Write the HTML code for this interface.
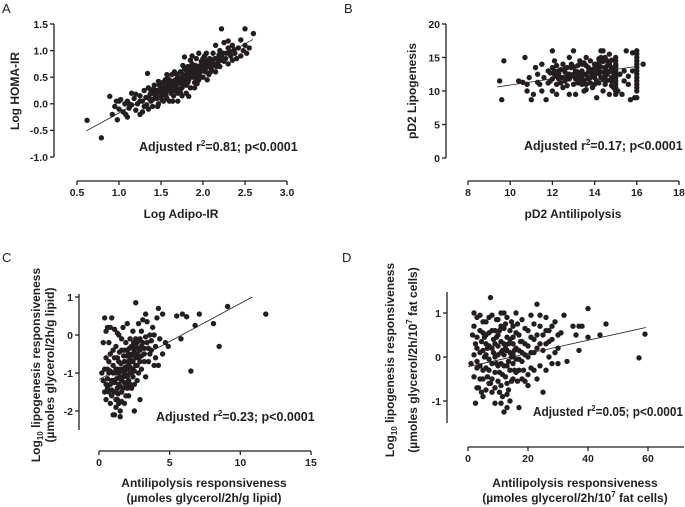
<!DOCTYPE html>
<html><head><meta charset="utf-8"><style>
html,body{margin:0;padding:0;background:#fff;}
svg{display:block;font-family:"Liberation Sans",Arial,sans-serif;}
.t{font-size:10.5px;font-weight:bold;fill:#231f20;}
.at{font-size:12px;font-weight:bold;fill:#231f20;}
.an{font-size:12.5px;font-weight:bold;fill:#231f20;}
.pl{font-size:13px;fill:#231f20;}
</style></head><body>
<svg id="fig" width="685" height="507" viewBox="0 0 685 507">
<text class="pl" x="2" y="13">A</text>
<text class="pl" x="344" y="13">B</text>
<text class="pl" x="2" y="262">C</text>
<text class="pl" x="342" y="262">D</text>

<text class="at" x="181" y="218" text-anchor="middle">Log Adipo-IR</text>
<text class="at" transform="translate(19,91) rotate(-90)" text-anchor="middle">Log HOMA-IR</text>
<text class="an" x="139" y="151">Adjusted r<tspan dy="-5" font-size="8">2</tspan><tspan dy="5">=0.81; p&lt;0.0001</tspan></text>

<text class="at" x="573" y="218" text-anchor="middle">pD2 Antilipolysis</text>
<text class="at" transform="translate(416,91) rotate(-90)" text-anchor="middle">pD2 Lipogenesis</text>
<text class="an" x="524" y="150">Adjusted r<tspan dy="-5" font-size="8">2</tspan><tspan dy="5">=0.17; p&lt;0.0001</tspan></text>

<text class="at" x="204" y="487" text-anchor="middle">Antilipolysis responsiveness</text>
<text class="at" x="204" y="502" text-anchor="middle">(µmoles glycerol/2h/g lipid)</text>
<text class="at" transform="translate(40,365) rotate(-90)" text-anchor="middle">Log<tspan dy="3" font-size="8">10</tspan><tspan dy="-3"> lipogenesis responsiveness</tspan></text>
<text class="at" transform="translate(54,365) rotate(-90)" text-anchor="middle">(µmoles glycerol/2h/g lipid)</text>
<text class="an" x="156" y="421">Adjusted r<tspan dy="-5" font-size="8">2</tspan><tspan dy="5">=0.23; p&lt;0.0001</tspan></text>

<text class="at" x="575" y="487" text-anchor="middle">Antilipolysis responsiveness</text>
<text class="at" x="575" y="502" text-anchor="middle">(µmoles glycerol/2h/10<tspan dy="-5" font-size="8">7</tspan><tspan dy="5"> fat cells)</tspan></text>
<text class="at" transform="translate(394,360) rotate(-90)" text-anchor="middle">Log<tspan dy="3" font-size="8">10</tspan><tspan dy="-3"> lipogenesis responsiveness</tspan></text>
<text class="at" transform="translate(417,360) rotate(-90)" text-anchor="middle">(µmoles glycerol/2h/10<tspan dy="-5" font-size="8">7</tspan><tspan dy="5"> fat cells)</tspan></text>
<text class="an" x="533" y="416" textLength="150" lengthAdjust="spacingAndGlyphs">Adjusted r<tspan dy="-5" font-size="8">2</tspan><tspan dy="5">=0.05; p&lt;0.0001</tspan></text>
</svg>
<script>
const xTicksA=[0.5,1.0,1.5,2.0,2.5,3.0], yTicksA=[-1.0,-0.5,0.0,0.5,1.0,1.5];
const xLabA=["0.5","1.0","1.5","2.0","2.5","3.0"], yLabA=["-1.0","-0.5","0.0","0.5","1.0","1.5"];
const fitA=[[0.61,-0.51],[2.595,1.21]];
const ptsA=[[0.62,-0.31],[0.79,-0.64],[0.89,0.14],[1.34,0.57],[1.78,0.88],[2.22,1.41],[2.5,1.41],[2.6,1.32],[1.83,0.14],
[0.92,-0.2],[0.95,-0.05],[0.97,0.05],[1.0,-0.1],[1.02,0.08],[1.05,-0.15],[1.07,0.0],[1.1,-0.25],[1.1,0.05],[1.12,-0.08],[1.15,0.2],[1.15,-0.02],[1.18,0.1],[1.2,-0.12],[1.22,0.0],[1.25,0.15],[1.25,-0.2],[1.28,0.05],[1.3,-0.05],[1.3,0.25],[1.32,0.12],[1.35,-0.1],[1.35,0.3],[1.38,0.05],[1.4,0.2],[1.4,-0.05],[1.42,0.35],[1.45,0.1],[1.45,0.25],[1.47,0.0],[1.5,0.3],[1.5,0.15],[1.52,0.4],[1.53,0.05],[1.55,0.2],[1.55,0.35],[1.57,0.1],[1.6,0.3],[1.6,0.45],[1.62,0.2],[1.63,0.55],[1.65,0.35],[1.65,0.15],[1.67,0.45],[1.68,0.3],[1.7,0.5],[1.7,0.2],[1.72,0.4],[1.73,0.6],[1.75,0.3],[1.75,0.5],[1.77,0.45],[1.78,0.65],[1.8,0.35],[1.8,0.55],[1.82,0.7],[1.83,0.45],[1.85,0.6],[1.85,0.3],[1.87,0.75],[1.88,0.5],[1.9,0.65],[1.9,0.4],[1.92,0.85],[1.93,0.55],[1.95,0.7],[1.95,0.45],[1.97,0.6],[1.98,0.8],[2.0,0.5],[2.0,0.7],[2.02,0.9],[2.03,0.6],[2.05,0.75],[2.07,0.55],[2.08,0.85],[2.1,0.65],[2.12,0.95],[2.13,0.75],[2.15,0.6],[2.17,0.85],[2.2,0.7],[2.2,1.0],[2.22,0.9],[2.25,0.8],[2.25,1.15],[2.28,0.95],[2.3,0.75],[2.3,1.05],[2.33,0.9],[2.35,1.1],[2.38,0.95],[2.4,0.85],[2.42,1.05],[2.45,0.9],[2.48,1.0],[2.5,1.1],[2.52,0.95],[1.12,0.0],[1.2,0.18],[1.28,-0.15],[1.33,-0.02],[1.37,0.18],[1.43,0.12],[1.48,0.35],[1.58,0.25],[1.6,0.05],[1.66,0.6],[1.7,0.05],[1.75,0.15],[1.8,0.2],[1.9,0.3],[2.05,0.45],[2.15,1.1],[2.3,1.18],[1.55,0.45],[1.52,0.25],[1.68,0.42],[1.72,0.28],[1.78,0.38],[1.83,0.58],[1.88,0.62],[1.92,0.48],[1.97,0.72],[2.02,0.62],[2.08,0.7],[2.1,0.8],[2.18,0.78],[1.0,0.05],[0.98,-0.3],[1.08,-0.2],[1.25,0.05],[1.4,0.08],[1.46,-0.05],[1.62,0.38],[1.85,0.82],[1.95,0.95],[2.0,0.85],[2.35,0.82],[2.45,1.2],[2.55,1.05],
[1.41,0.28],[1.44,0.18],[1.49,0.22],[1.51,0.08],[1.54,0.3],[1.56,0.15],[1.59,0.38],[1.61,0.25],[1.64,0.42],[1.66,0.25],[1.69,0.37],[1.71,0.46],[1.74,0.38],[1.76,0.55],[1.79,0.5],[1.81,0.62],[1.84,0.52],[1.86,0.68],[1.89,0.58],[1.91,0.72],[1.94,0.62],[1.96,0.52],[1.99,0.65],[2.01,0.78],[2.04,0.68],[2.06,0.82],[2.09,0.6],[2.11,0.72],[2.14,0.85],[2.16,0.7],[2.19,0.92],[2.21,0.82],[2.24,0.95],[2.27,0.85],[2.32,0.98],[2.37,1.02],[1.38,0.25],[1.36,0.1],[1.47,0.42],[1.58,0.48],[1.64,0.05],[1.73,0.22],[1.82,0.4],[1.93,0.38],[2.04,0.95],[1.87,0.9],[1.76,0.72],[1.69,0.55],[1.57,0.55],[1.53,0.18],[1.63,0.3]];

const xTicksB=[8,10,12,14,16,18], yTicksB=[0,5,10,15,20];
const xLabB=["8","10","12","14","16","18"], yLabB=["0","5","10","15","20"];
const fitB=[[9.37,10.6],[16.06,13.7]];
const ptsB=[[9.5,11.5],[9.6,8.7],[9.7,14.5],[10.4,11.5],[10.7,15],[10.8,11],[10.8,10],[10.9,12],[11.0,8.7],[11.1,9.5],[11.2,13.5],[11.3,12.5],[11.4,11],[11.5,14],[11.5,10],[11.6,12],[11.7,8.7],[11.8,13],[11.9,11.5],[12.0,16],[12.0,10],[12.1,12.5],[12.1,14.5],[12.2,9.5],[12.2,11],[12.3,13],[12.4,12],[12.5,14],[12.5,10.5],[12.6,11.5],[12.7,13.5],[12.8,12.5],[12.8,9.5],[12.9,14],[13.0,16],[13.0,11],[13.0,12.5],[13.1,13],[13.1,9.5],[13.2,12],[13.3,14.5],[13.3,11.5],[13.4,13],[13.5,10],[13.5,12.5],[13.6,15],[13.6,11],[13.7,13.5],[13.8,12],[13.9,10.5],[14.0,14],[14.0,12.5],[14.1,9],[14.1,11.5],[14.2,13],[14.3,15],[14.3,12],[14.4,16],[14.4,10],[14.5,13.5],[14.5,11],[14.6,14.5],[14.6,12.5],[14.7,9.5],[14.7,15.5],[14.8,12],[14.8,13.5],[14.9,10.5],[15.0,14],[15.0,12],[15.0,9.5],[15.0,11],[15.0,13],[15.0,15],[15.1,10],[15.2,12.5],[15.3,9.5],[15.5,16],[15.6,11],[15.7,8.7],[15.8,13],[15.9,9],[16.0,16],[16.0,15],[16.0,14],[16.0,13],[16.0,12],[16.0,11],[16.0,10],[16.0,9],[16.0,15.5],[16.0,14.5],[16.0,13.5],[16.0,12.5],[16.0,11.5],[16.0,10.5],[16.3,14],[12.0,13.5],[12.3,11.8],[12.6,12.8],[13.2,13.8],[13.4,12.2],[13.7,11.8],[13.9,13.2],[14.2,12.6],[14.4,11.7],[14.6,13],[14.9,12.7],[14.2,14.2],[13.8,14.5],[12.9,12.2],[12.4,13.2],[11.8,11.2],[12.7,10.8],[13.6,10.2],[14.8,11.5],[15.0,14.5],[15.0,12.5],[15.0,11.5],[15.0,10.5],[15.0,13.5],[14.5,12.2],[14.1,13.6],[13.3,12.7],[12.2,12.2],[11.3,11.3],[10.6,11.3],[12.8,15],[14.3,16],[15.8,15.7],[13.5,14.2],[12.5,12],[11.9,12.7],[12.1,13],[12.9,13.5],[13.1,11.8],[14.0,11],[14.7,14],[15.4,13],[15.4,11.5],[15.6,12.2],[13.4,11],
[12.2,13.8],[12.4,11.2],[12.6,13.3],[12.8,11.8],[13.0,13.6],[13.2,11.2],[13.2,12.8],[13.4,14],[13.6,12.4],[13.6,13.8],[13.8,11.2],[13.8,13],[14.0,12],[14.0,13.4],[14.2,11.2],[14.2,14.8],[14.4,12.8],[14.4,14.4],[14.6,11.6],[14.6,13.8],[14.8,10.8],[14.8,14.6],[14.9,13.2],[14.9,11.8],[15.0,10],[15.0,12.2],[15.0,13.8],[14.5,15],[14.3,13.6],[13.9,12.5],[13.5,11.6],[13.1,12.4],[12.7,12.2],[12.3,12.6],[12.0,11.8],[14.7,12.9],[14.1,12.9],[13.7,12.8]];

const xTicksC=[0,5,10,15], yTicksC=[-2,-1,0,1];
const xLabC=["0","5","10","15"], yLabC=["-2","-1","0","1"];
const fitC=[[0,-1.17],[10.85,1.0]];
const ptsC=[[0.2,-1.0],[0.3,-1.2],[0.4,0.45],[0.5,-0.6],[0.5,-1.7],[0.6,0.2],[0.6,-1.4],[0.7,-0.2],[0.7,-1.0],[0.8,-0.5],[0.8,-1.8],[0.9,0.45],[0.9,-1.2],[1.0,-0.8],[1.0,-2.1],[1.1,0.15],[1.1,-1.5],[1.2,-0.3],[1.2,-1.0],[1.3,-0.6],[1.3,-1.7],[1.4,-1.3],[1.4,0.0],[1.5,-0.9],[1.5,-2.0],[1.6,-0.4],[1.6,-1.5],[1.7,-1.1],[1.7,0.2],[1.8,-0.7],[1.8,-1.8],[1.9,-0.2],[1.9,-1.3],[2.0,-0.9],[2.0,0.3],[2.1,-0.5],[2.1,-1.6],[2.2,-1.0],[2.2,-0.1],[2.3,-0.7],[2.3,-1.4],[2.4,0.1],[2.4,-1.1],[2.5,-0.4],[2.5,-2.0],[2.6,0.85],[2.6,-0.8],[2.7,-0.2],[2.7,-1.2],[2.8,0.3],[2.8,-0.6],[2.9,-1.7],[3.0,-0.3],[3.0,-0.9],[3.1,0.4],[3.2,-0.5],[3.3,0.55],[3.3,-1.1],[3.4,-0.2],[3.5,-0.7],[3.6,0.0],[3.7,-0.4],[3.8,0.2],[3.9,-0.8],[4.0,-0.3],[4.1,0.45],[4.2,0.7],[4.2,-0.8],[4.3,-0.1],[4.5,0.55],[4.5,-0.5],[4.7,-0.2],[4.9,-0.3],[5.5,0.5],[5.8,-0.1],[5.9,0.55],[6.2,0.48],[6.5,-0.95],[6.8,0.25],[7.1,0.55],[8.1,0.3],[8.5,-0.3],[9.1,0.75],[11.8,0.55],[0.3,-0.2],[0.4,-1.5],[0.6,-0.9],[0.8,-1.3],[1.0,-0.4],[1.2,-1.9],[1.4,-0.7],[1.6,-1.2],[1.8,-0.4],[2.0,-1.1],[2.2,-0.6],[2.4,-0.9],[2.6,-0.3],[2.8,-1.0],[3.0,0.1],[1.1,-2.1],[1.5,-2.15],[1.3,-1.4],[1.7,-0.9],[2.1,-0.8],[2.3,-0.3],[2.5,-1.3],[2.7,-0.5],[2.9,-0.1],[3.2,-0.7],[1.9,-1.6],[1.5,-1.1],[0.9,-1.6],[0.7,-0.7],[0.4,-0.9],[3.6,-0.5],[3.4,0.35],[3.9,0.0],[4.0,-0.6],[2.2,-1.3],[1.8,-1.0],[1.2,-0.9],[1.0,-1.2],[2.6,-0.6],[2.9,-0.4],[0.5,0.1],[0.8,0.2],[1.3,0.05],[1.6,-0.1],[2.0,-0.4],
[0.6,-1.15],[0.8,-0.95],[0.9,-1.45],[1.0,-1.0],[1.1,-1.25],[1.1,-0.6],[1.2,-1.5],[1.25,-1.15],[1.3,-0.9],[1.35,-1.55],[1.4,-1.0],[1.45,-0.45],[1.5,-1.35],[1.55,-0.75],[1.6,-1.75],[1.65,-0.95],[1.7,-1.4],[1.75,-0.55],[1.8,-1.25],[1.85,-0.85],[1.9,-1.05],[1.95,-0.55],[2.0,-1.4],[2.05,-0.7],[2.1,-1.2],[2.15,-0.35],[2.2,-0.85],[2.3,-1.0],[2.35,-0.5],[2.4,-0.7],[2.45,-0.2],[2.5,-0.95],[2.55,-0.55],[2.6,-0.1],[2.7,-0.8],[2.75,-0.35],[2.8,-0.15],[2.9,-0.7],[3.0,-0.55],[3.1,-0.2],[3.2,-0.35],[3.3,-0.05],[3.5,-0.35],[3.7,-0.15],[1.4,-1.8],[1.2,-1.7],[0.7,-1.5],[0.5,-1.3]];

const xTicksD=[0,20,40,60], yTicksD=[-1,0,1];
const xLabD=["0","20","40","60"], yLabD=["-1","0","1"];
const fitD=[[0,-0.22],[59.3,0.67]];
const ptsD=[[1,-0.15],[1.5,0.5],[2,1.0],[2,-0.45],[2.5,-1.05],[3,0.9],[3,0.2],[3.5,-0.7],[4,0.6],[4,-0.2],[4.5,0.35],[5,-0.5],[5,0.8],[5.5,0.0],[6,-0.75],[6,0.5],[6.5,0.2],[7,-0.3],[7,0.9],[7.5,1.35],[8,0.6],[8,-0.5],[8.5,0.1],[9,-1.05],[9,0.3],[9.5,0.85],[10,-0.2],[10,0.5],[10.5,-0.8],[11,0.1],[11,1.0],[11.5,-0.4],[12,0.65],[12,-1.25],[12.5,0.2],[13,-0.6],[13,0.9],[13.5,-0.1],[14,0.4],[14,-1.0],[14.5,0.0],[15,0.7],[15,-0.5],[16,0.2],[16,1.0],[17,-0.3],[17,0.5],[17,-1.15],[18,0.85],[18,-0.1],[19,0.3],[19,-0.55],[20,0.6],[20,-0.65],[21,0.1],[21,0.95],[22,0.4],[22,-0.3],[23,1.2],[23,0.2],[24,0.7],[24,-0.2],[25,-0.8],[25,0.5],[26,0.3],[26,0.9],[27,0.0],[27,0.6],[28,-0.15],[28,0.4],[29,0.8],[29,0.1],[30,-0.15],[30,0.2],[31,0.55],[32,0.95],[33,-0.1],[35,0.7],[36,0.5],[37,0.15],[37,0.7],[38,0.7],[40,1.1],[40,0.45],[44,0.5],[46,0.75],[57,-0.02],[59,0.52],[3,0.45],[5,0.15],[7,-0.05],[9,-0.35],[11,0.35],[13,0.15],[15,0.3],[10,0.05],[12,-0.2],[14,0.6],[16,-0.35],[18,0.35],[8,0.2],[6,0.3],[4,-0.5],[2,0.05],[3,-0.25],[10,-0.55],[12,0.05],[14,-0.3],[9,0.6],[11,-0.15],[13,0.45],[15,0.05],[17,0.15],[19,0.05],[21,-0.25],[23,0.5],[25,0.15],[6,-0.25],[8,-0.8],[11,-0.65],[13,-0.85],[15,-0.15],[16,0.55],[20,0.25],[22,0.75],[24,0.95],[7,0.55],[5,-0.9],[3,-0.7],[2,0.7],[4,0.95],[10,0.85],[12,1.0],[18,-0.5],[20,-0.4],[26,-0.3],[28,0.7],[30,0.5],
[4,0.1],[5,-0.3],[5.5,0.45],[6,0.05],[6.5,-0.45],[7,0.25],[7.5,-0.6],[8,-0.15],[8.5,0.4],[9,0.0],[9.5,-0.15],[9.5,0.45],[10,0.25],[10.5,-0.35],[10.5,0.6],[11,0.7],[11.5,0.15],[11.5,-0.9],[12,0.3],[12.5,-0.45],[12.5,0.75],[13,-0.2],[13.5,0.3],[13.5,-0.75],[14,0.1],[14.5,0.8],[14.5,-0.55],[15,0.45],[15.5,-0.3],[15.5,0.15],[16,-0.05],[16.5,0.75],[16.5,-0.55],[17,-0.05],[17.5,0.35],[18,0.1],[18.5,-0.3],[19,0.65],[20,0.0],[21,0.45],[22,0.1],[23,-0.5],[24,0.3],[26,0.6],[27,0.35],[5,0.55],[7,-0.6],[9,-0.7],[11,-1.05],[13,-1.15],[8,0.95],[6,0.8],[3,-0.1],[2.5,0.3],[4.5,-0.8]];

const NS="http://www.w3.org/2000/svg";
const svg=document.getElementById('fig');
function mk(tag,attrs){const e=document.createElementNS(NS,tag);for(const k in attrs)e.setAttribute(k,attrs[k]);svg.appendChild(e);return e;}
function panel(id,cfg){
  const sx=v=>cfg.x0+(v-cfg.xa)/(cfg.xb-cfg.xa)*(cfg.x1-cfg.x0);
  const sy=v=>cfg.y0+(v-cfg.ya)/(cfg.yb-cfg.ya)*(cfg.y1-cfg.y0);
  const st={stroke:'#231f20','stroke-width':1.3,fill:'none'};
  let e=mk('line',Object.assign({x1:cfg.yax,x2:cfg.yax,y1:cfg.yTop,y2:cfg.yBot},st));
  
  
  e=mk('line',Object.assign({x1:sx(cfg.xt[0]),x2:cfg.xEnd,y1:cfg.xay,y2:cfg.xay},st));
  
  
  cfg.yt.forEach((v,i)=>{
    const t=mk('line',Object.assign({x1:cfg.yax-4,x2:cfg.yax,y1:sy(v),y2:sy(v)},st));
    
    
    const l=mk('text',{x:cfg.yax-6,y:sy(v)+3.8,'text-anchor':'end','class':'t'});
    l.textContent=cfg.yl[i];
    
    
  });
  cfg.xt.forEach((v,i)=>{
    const t=mk('line',Object.assign({x1:sx(v),x2:sx(v),y1:cfg.xay,y2:cfg.xay+4},st));
    
    
    const l=mk('text',{x:sx(v),y:cfg.xay+15,'text-anchor':'middle','class':'t'});
    l.textContent=cfg.xl[i];
    
    
  });
  cfg.pts.forEach(p=>{
    const c=mk('circle',{cx:sx(p[0]),cy:sy(p[1]),r:2.7,fill:'#231f20'});
    
    
  });
  const f=mk('line',{x1:sx(cfg.fit[0][0]),y1:sy(cfg.fit[0][1]),x2:sx(cfg.fit[1][0]),y2:sy(cfg.fit[1][1]),stroke:'#231f20','stroke-width':0.8});
  
  
}
panel('a',{x0:77,x1:287,xa:0.5,xb:3.0,y0:157,y1:24,ya:-1.0,yb:1.5,yax:54,yTop:24,yBot:157,xay:181,xEnd:287,xt:xTicksA,xl:xLabA,yt:yTicksA,yl:yLabA,pts:ptsA,fit:fitA});
panel('b',{x0:468,x1:679,xa:8,xb:18,y0:158,y1:24,ya:0,yb:20,yax:446,yTop:24,yBot:158,xay:181,xEnd:679,xt:xTicksB,xl:xLabB,yt:yTicksB,yl:yLabB,pts:ptsB,fit:fitB});
panel('c',{x0:99,x1:311,xa:0,xb:15,y0:335,y1:297,ya:0,yb:1,yax:79,yTop:294,yBot:430,xay:451,xEnd:311,xt:xTicksC,xl:xLabC,yt:yTicksC,yl:yLabC,pts:ptsC,fit:fitC});
panel('d',{x0:468,x1:648,xa:0,xb:60,y0:357,y1:313,ya:0,yb:1,yax:447,yTop:292,yBot:423,xay:447,xEnd:684,xt:xTicksD,xl:xLabD,yt:yTicksD,yl:yLabD,pts:ptsD,fit:fitD});
</script>
</body></html>
